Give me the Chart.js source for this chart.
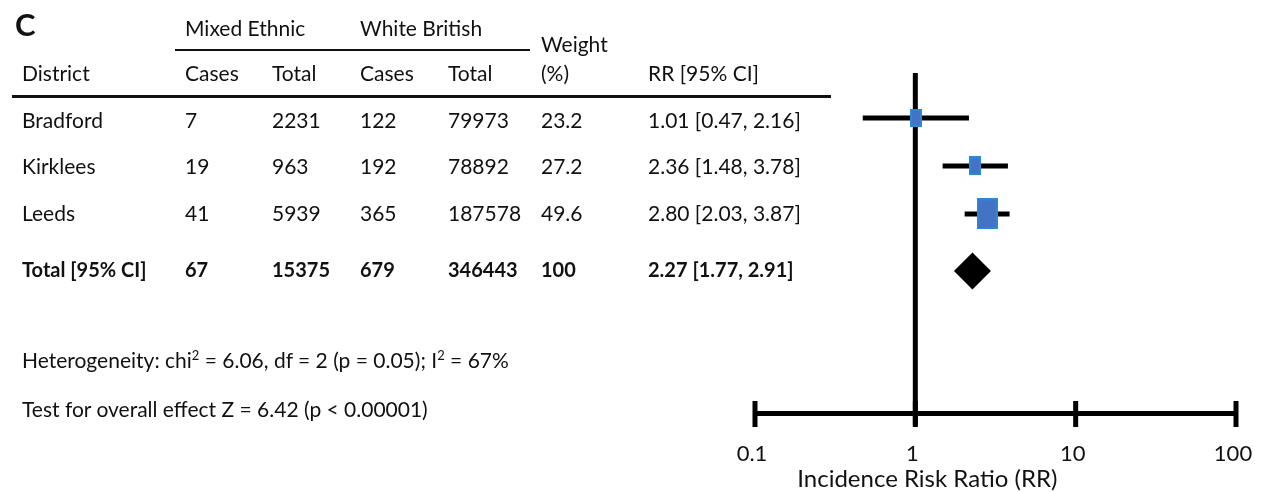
<!DOCTYPE html>
<html>
<head>
<meta charset="utf-8">
<script src="https://cdn.jsdelivr.net/npm/chart.js@4/dist/chart.umd.min.js"></script>
<style>
  html, body { margin: 0; padding: 0; background: #fff; }
  body { width: 1271px; height: 492px; position: relative; overflow: hidden;
         font-family: Lato, "Open Sans", sans-serif; color: #111; }
  #plot { position: absolute; left: 0; top: 0; width: 1271px; height: 492px; }
  .t { position: absolute; white-space: nowrap; font-size: 21px; line-height: 24px; }
  .b { font-weight: bold; font-size: 20px; }
  .rule { position: absolute; background: #111; }
  sup { font-size: 13px; vertical-align: 8px; line-height: 0; }
</style>
</head>
<body>
<div id="plot"><canvas id="forest" width="1271" height="492"></canvas></div>
<div id="table"></div>
<script>
// study rows
const districts = ['Bradford', 'Kirklees', 'Leeds'];
const mixedCases = [7, 19, 41];
const mixedTotal = [2231, 963, 5939];
const whiteCases = [122, 192, 365];
const whiteTotal = [79973, 78892, 187578];
const weights = [23.2, 27.2, 49.6];
const rr = [1.01, 2.36, 2.80];
const ciLow = [0.47, 1.48, 2.03];
const ciHigh = [2.16, 3.78, 3.87];

// pooled row
const totalLabel = 'Total [95% CI]';
const totalCounts = [67, 15375, 679, 346443];
const totalWeight = 100;
const totalRR = 2.27;
const totalLow = 1.77;
const totalHigh = 2.91;

const tickValues = [0.1, 1, 10, 100];
const axisTitle = 'Incidence Risk Ratio (RR)';

// layout
const colX = [22, 185, 272, 360, 448, 541, 648];
const rowCenters = [120, 166, 213];
const totalCenter = 269;
const rowPos = [1, 2, 3];     // y-scale position of each study
const totalPos = 4.19;
const boxSizes = [[12, 18], [12, 19], [21, 31]];

const fmt = v => v.toFixed(2);
const ciText = (r, lo, hi) => fmt(r) + ' [' + fmt(lo) + ', ' + fmt(hi) + ']';

const table = document.getElementById('table');
function addText(html, x, cy, cls) {
  const d = document.createElement('div');
  d.className = 't' + (cls ? ' ' + cls : '');
  d.innerHTML = html;
  d.style.left = x + 'px';
  d.style.top = (cy - 12) + 'px';
  table.appendChild(d);
}
function addRule(x, y, w, h) {
  const d = document.createElement('div');
  d.className = 'rule';
  d.style.left = x + 'px'; d.style.top = y + 'px';
  d.style.width = w + 'px'; d.style.height = h + 'px';
  table.appendChild(d);
}

addText('<span style="font-size:31px;font-weight:bold">C</span>', 15, 24);
addText('Mixed Ethnic', colX[1], 28);
addText('White British', colX[3], 28);
addRule(175, 49, 355, 2);
addText('Weight', colX[5], 44);
['District', 'Cases', 'Total', 'Cases', 'Total', '(%)', 'RR [95% CI]'].forEach((h, i) => addText(h, colX[i], 73));
addRule(12, 95, 819, 3);

districts.forEach((d, i) => {
  const cells = [d, mixedCases[i], mixedTotal[i], whiteCases[i], whiteTotal[i],
                 weights[i].toFixed(1), ciText(rr[i], ciLow[i], ciHigh[i])];
  cells.forEach((c, j) => addText(String(c), colX[j], rowCenters[i]));
});
[totalLabel, ...totalCounts, totalWeight, ciText(totalRR, totalLow, totalHigh)]
  .forEach((c, j) => addText(String(c), colX[j], totalCenter, 'b'));

addText('Heterogeneity: chi<sup>2</sup> = 6.06, df = 2 (p = 0.05); I<sup>2</sup> = 67%', 22, 360);
addText('Test for overall effect Z = 6.42 (p &lt; 0.00001)', 22, 409);

// weight boxes as canvas point styles
function box(w, h) {
  const c = document.createElement('canvas');
  c.width = w; c.height = h;
  const g = c.getContext('2d');
  g.fillStyle = '#4472C4';
  g.fillRect(0, 0, w, h);
  g.strokeStyle = '#2E86D6';
  g.lineWidth = 2;
  g.strokeRect(1, 1, w - 2, h - 2);
  return c;
}

const datasets = [];
datasets.push({
  type: 'scatter',
  order: 0,
  data: districts.map((d, i) => ({ x: rr[i], y: rowPos[i] })),
  pointStyle: boxSizes.map(s => box(s[0], s[1])),
  pointRadius: 6
});
datasets.push({
  type: 'scatter',
  order: 0,
  data: [{ x: totalRR, y: totalPos }],
  pointStyle: 'rectRot',
  pointRadius: 18.5,
  backgroundColor: '#000',
  borderWidth: 0
});
districts.forEach((d, i) => {
  datasets.push({
    type: 'line',
    order: 1,
    data: [{ x: ciLow[i], y: rowPos[i] }, { x: ciHigh[i], y: rowPos[i] }],
    borderColor: '#000',
    borderWidth: 5,
    borderCapStyle: 'butt',
    pointRadius: 0
  });
});

const refLines = {
  id: 'refLines',
  beforeDatasetsDraw(chart) {
    const { ctx, chartArea, scales: { x } } = chart;
    ctx.save();
    ctx.strokeStyle = '#000';
    ctx.lineWidth = 5;
    const p1 = x.getPixelForValue(1);
    ctx.beginPath();
    ctx.moveTo(p1, chartArea.top);
    ctx.lineTo(p1, chartArea.bottom + 12);
    ctx.stroke();
    tickValues.forEach(v => {
      const p = x.getPixelForValue(v);
      ctx.beginPath();
      ctx.moveTo(p, chartArea.bottom - 12);
      ctx.lineTo(p, chartArea.bottom + 14);
      ctx.stroke();
    });
    ctx.restore();
  },
  afterDraw(chart) {
    const { ctx, chartArea, scales: { x } } = chart;
    ctx.save();
    ctx.fillStyle = '#111';
    ctx.font = '24px Lato, "Open Sans", sans-serif';
    ctx.textAlign = 'center';
    ctx.textBaseline = 'middle';
    ctx.fillText(axisTitle, x.getPixelForValue(1) + 12, chartArea.bottom + 66);
    ctx.restore();
  }
};

new Chart(document.getElementById('forest'), {
  type: 'scatter',
  data: { datasets },
  options: {
    responsive: false,
    animation: false,
    events: [],
    layout: { padding: { left: 755, right: 35, top: 73, bottom: 0 } },
    plugins: { legend: { display: false }, tooltip: { enabled: false } },
    scales: {
      x: {
        type: 'logarithmic',
        min: 0.1,
        max: 100,
        afterBuildTicks: s => { s.ticks = tickValues.map(v => ({ value: v })); },
        afterFit: s => { s.height = 79; s.paddingLeft = 0; s.paddingRight = 0; },
        grid: { display: false, drawTicks: false },
        border: { display: true, color: '#000', width: 5 },
        ticks: {
          autoSkip: false,
          maxRotation: 0,
          padding: 28,
          labelOffset: -3,
          color: '#111',
          font: { family: 'Lato, "Open Sans", sans-serif', size: 22 },
          callback: v => String(v)
        }
      },
      y: {
        display: false,
        reverse: true,
        min: 0.0625,
        max: 7.146
      }
    }
  },
  plugins: [refLines]
});
</script>
</body>
</html>
